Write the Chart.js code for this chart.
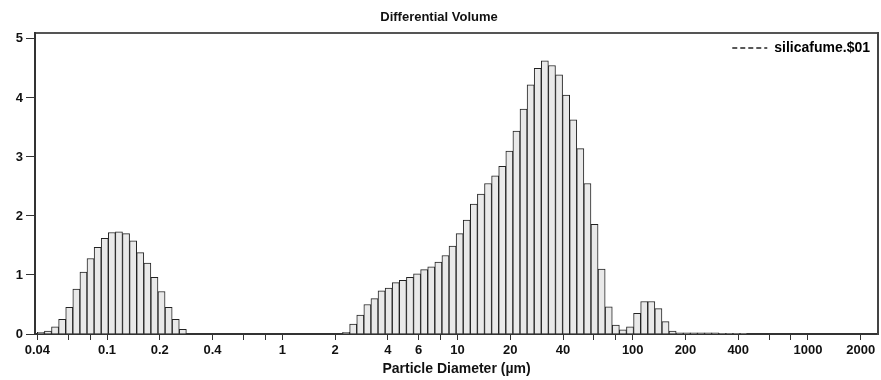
<!DOCTYPE html>
<html>
<head>
<meta charset="utf-8">
<script src="https://cdn.jsdelivr.net/npm/chart.js@4.4.1/dist/chart.umd.min.js"></script>
<style>
  html, body { margin: 0; padding: 0; background: #fff; }
  canvas { display: block; }
</style>
</head>
<body>
<canvas id="psdChart" width="881" height="380"></canvas>
<script>
// channel centres in µm (laser diffraction channels, 0.04 - 2000 µm)
const channelSizes = [
    0.04191, 0.04601, 0.05050, 0.05544, 0.06086, 0.06681, 0.07334, 0.08051, 0.08839, 0.09703,
    0.10651, 0.11692, 0.12835, 0.14090, 0.15468, 0.16980, 0.18640, 0.20462, 0.22463, 0.24659,
    0.27069, 0.29715, 0.32620, 0.35810, 0.39310, 0.43153, 0.47372, 0.52003, 0.57087, 0.62668,
    0.68794, 0.75520, 0.82903, 0.91008, 0.99905, 1.09672, 1.20393, 1.32163, 1.45084, 1.59267,
    1.74837, 1.91930, 2.10693, 2.31291, 2.53902, 2.78724, 3.05972, 3.35884, 3.68721, 4.04768,
    4.44338, 4.87777, 5.35463, 5.87810, 6.45275, 7.08360, 7.77610, 8.53631, 9.37082, 10.2869,
    11.2926, 12.3966, 13.6085, 14.9389, 16.3993, 18.0025, 19.7625, 21.6945, 23.8154, 26.1437,
    28.6995, 31.5053, 34.5853, 37.9664, 41.6781, 45.7524, 50.2252, 55.1353, 60.5254, 66.4425,
    72.9380, 80.0685, 87.8962, 96.4890, 105.922, 116.277, 127.644, 140.123, 153.822, 168.860,
    185.367, 203.489, 223.382, 245.221, 269.194, 295.511, 324.401, 356.115, 390.929, 429.147
];

// differential volume (%) per channel
const volumePct = [
    0.03, 0.05, 0.12, 0.25, 0.45, 0.76, 1.05, 1.28, 1.47, 1.62,
    1.72, 1.73, 1.70, 1.58, 1.38, 1.20, 0.96, 0.72, 0.45, 0.25,
    0.08, 0, 0, 0, 0, 0, 0, 0, 0, 0,
    0, 0, 0, 0, 0, 0, 0, 0, 0, 0,
    0, 0, 0, 0.03, 0.17, 0.32, 0.50, 0.60, 0.73, 0.78,
    0.87, 0.91, 0.96, 1.02, 1.09, 1.14, 1.22, 1.33, 1.49, 1.70,
    1.93, 2.20, 2.37, 2.55, 2.68, 2.84, 3.10, 3.44, 3.81, 4.22,
    4.50, 4.63, 4.55, 4.39, 4.05, 3.63, 3.14, 2.55, 1.86, 1.10,
    0.46, 0.15, 0.07, 0.12, 0.35, 0.55, 0.55, 0.43, 0.21, 0.05,
    0.02, 0.02, 0.02, 0.02, 0.02, 0.02, 0.01, 0.01, 0.01, 0.01
];

const labelTicks = [0.04, 0.1, 0.2, 0.4, 1, 2, 4, 6, 10, 20, 40, 100, 200, 400, 1000, 2000];
const minorTicks = [0.06, 0.08, 0.6, 0.8, 8, 60, 80, 600, 800];
const yTicks = [0, 1, 2, 3, 4, 5];
const sampleName = 'silicafume.$01';

const xMin = 0.0388;
const xMax = 2510;

Chart.defaults.font.family = '"Liberation Sans", Arial, sans-serif';
Chart.defaults.color = '#111';

// legend sits inside the plot, top right
const legendInside = {
    id: 'legendInside',
    afterLayout(chart) {
        const lg = chart.legend;
        const a = chart.chartArea;
        if (!lg) return;
        const pad = lg.options.labels.padding;
        const fs = lg.options.labels.font.size;
        lg.top = a.top + 15 - pad - fs / 2;
        lg.bottom = lg.top + 40;
        lg.height = 40;
        lg.left = a.left;
        lg.right = a.right + 2;
        lg.width = lg.right - lg.left;
    }
};

const barData = channelSizes.map((s, i) => ({ x: s, y: volumePct[i] }));

new Chart(document.getElementById('psdChart'), {
    type: 'bar',
    data: {
        datasets: [{
            label: sampleName,
            data: barData,
            backgroundColor: '#e9e9e9',
            borderColor: '#222',
            borderWidth: 1,
            barPercentage: 1,
            categoryPercentage: 1
        }]
    },
    options: {
        responsive: false,
        animation: false,
        events: [],
        layout: { padding: { left: 0, right: 3, top: 0, bottom: 0 } },
        plugins: {
            title: {
                display: true,
                text: 'Differential Volume',
                font: { size: 13, weight: 'bold' },
                color: '#111',
                padding: { top: 9.5, bottom: 7.9 }
            },
            legend: {
                display: true,
                position: 'top',
                align: 'end',
                maxHeight: 0.01,
                labels: {
                    usePointStyle: true,
                    pointStyleWidth: 35,
                    padding: 10,
                    font: { size: 14, weight: 'bold' },
                    color: '#111',
                    generateLabels: () => [{
                        text: sampleName,
                        pointStyle: 'line',
                        lineDash: [5, 3],
                        strokeStyle: '#222',
                        fillStyle: 'rgba(0,0,0,0)',
                        lineWidth: 1.5,
                        datasetIndex: 0
                    }]
                }
            },
            tooltip: { enabled: false }
        },
        scales: {
            x: {
                type: 'logarithmic',
                position: 'bottom',
                min: xMin,
                max: xMax,
                offset: false,
                afterBuildTicks: (scale) => {
                    scale.ticks = labelTicks.concat(minorTicks)
                        .sort((a, b) => a - b)
                        .map(v => ({ value: v }));
                },
                afterFit: (scale) => { scale.height = 46; },
                ticks: {
                    autoSkip: false,
                    maxRotation: 0,
                    padding: 3,
                    font: { size: 13, weight: 'bold' },
                    color: '#111',
                    callback: (value) => labelTicks.includes(value) ? String(value) : ''
                },
                grid: {
                    display: true,
                    offset: false,
                    drawOnChartArea: false,
                    drawTicks: true,
                    tickLength: 6,
                    color: '#333'
                },
                border: { display: true, color: '#333', width: 2 },
                title: {
                    display: true,
                    text: 'Particle Diameter (µm)',
                    font: { size: 14, weight: 'bold' },
                    color: '#111',
                    padding: { top: 0, bottom: 2 }
                }
            },
            x2: {
                type: 'logarithmic',
                position: 'top',
                min: xMin,
                max: xMax,
                offset: false,
                ticks: { display: false },
                grid: { display: false, drawTicks: false },
                border: { display: true, color: '#555', width: 2 },
                afterFit: (scale) => { scale.height = 0; }
            },
            y: {
                min: 0,
                max: 5.1,
                afterBuildTicks: (scale) => {
                    scale.ticks = yTicks.map(v => ({ value: v }));
                },
                afterFit: (scale) => { scale.width = 35; },
                ticks: {
                    padding: 3,
                    font: { size: 13, weight: 'bold' },
                    color: '#111'
                },
                grid: {
                    display: true,
                    drawOnChartArea: false,
                    drawTicks: true,
                    tickLength: 9,
                    color: '#333'
                },
                border: { display: true, color: '#333', width: 2 }
            },
            y2: {
                position: 'right',
                min: 0,
                max: 5.1,
                ticks: { display: false },
                grid: { display: false, drawTicks: false },
                border: { display: true, color: '#444', width: 2 },
                afterFit: (scale) => { scale.width = 0; }
            }
        }
    },
    plugins: [legendInside]
});
</script>
</body>
</html>
